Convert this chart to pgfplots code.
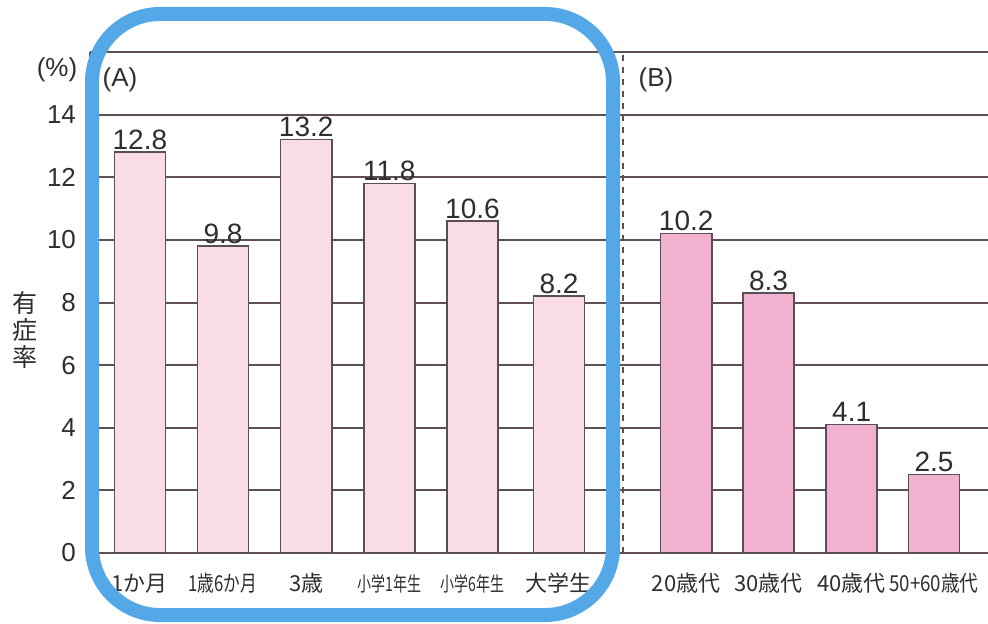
\documentclass[border=0pt]{standalone}
\usepackage{fontspec}
\setmainfont{Liberation Sans}
\newfontfamily\jp{Noto Sans CJK JP}
\usepackage{graphicx}
\usepackage{pgfplots}
\pgfplotsset{compat=1.18}

\definecolor{gridc}{HTML}{5E4F52}
\definecolor{barA}{HTML}{F9DCE8}
\definecolor{barB}{HTML}{F2B2CF}
\definecolor{edgec}{HTML}{5A4E58}
\definecolor{txt}{HTML}{2E2E2E}
\definecolor{frameblue}{HTML}{55A8E8}

\begin{document}
\begin{tikzpicture}
\useasboundingbox (0,0) rectangle (494pt,311.5pt);
\begin{axis}[
  at={(45pt,35pt)}, anchor=south west,
  scale only axis, width=449pt, height=250.5pt,
  xmin=-0.6, xmax=10.2, ymin=0, ymax=16,
  axis x line=box, axis y line=left,
  axis line style={-, draw=gridc, line width=1pt},
  ytick={0,2,...,14}, ymajorgrids,
  grid style={gridc, line width=1pt},
  major tick length=0pt,
  xtick={0,1,2,3,4,5.04,6.57,7.56,8.56,9.55},
  xticklabels={
    {1か月},
    {\scalebox{0.76}[1]{1歳6か月}},
    {3歳},
    {\scalebox{0.7}[1]{\fontsize{10}{12}\selectfont 小学1年生}},
    {\scalebox{0.7}[1]{\fontsize{10}{12}\selectfont 小学6年生}},
    {大学生},
    {20歳代}, {30歳代}, {40歳代},
    {\scalebox{0.85}[1]{50+60歳代}}},
  xticklabel style={font=\jp\fontsize{11}{13}\selectfont, text=txt, anchor=base, yshift=-19pt},
  yticklabel style={font=\fontsize{13}{15}\selectfont, text=txt, xshift=-3.5pt},
  /pgf/number format/assume math mode=true,
  bar width=0.615,
  nodes near coords,
  nodes near coords style={font=\fontsize{14}{16}\selectfont, text=txt, anchor=south, inner sep=1pt,
    /pgf/number format/.cd, fixed, fixed zerofill, precision=1, assume math mode=true},
]
\addplot[ybar, bar shift=0pt, fill=barA, draw=edgec, line width=0.75pt]
  coordinates {(0,12.8) (1,9.8) (2,13.2) (3,11.8) (4,10.6) (5.04,8.2)};
\addplot[ybar, bar shift=0pt, fill=barB, draw=edgec, line width=0.75pt]
  coordinates {(6.57,10.2) (7.56,8.3) (8.56,4.1) (9.55,2.5)};
\draw[gridc, dashed, line width=0.9pt] (axis cs:5.81,0) -- (axis cs:5.81,16);
\end{axis}
\node[text=txt, font=\fontsize{13}{15}\selectfont] at (28.5pt,276.5pt) {(\%)};
\node[text=txt, font=\fontsize{13}{15}\selectfont] at (60pt,271.5pt) {(A)};
\node[text=txt, font=\fontsize{13}{15}\selectfont] at (328pt,271.5pt) {(B)};
\node[text=txt, font=\jp\fontsize{12.5}{13.5}\selectfont, align=center] at (12.5pt,146.5pt) {有\\症\\率};
\draw[frameblue, line width=7pt, rounded corners=34pt] (46pt,4pt) rectangle (306.5pt,304.5pt);
\end{tikzpicture}
\end{document}
